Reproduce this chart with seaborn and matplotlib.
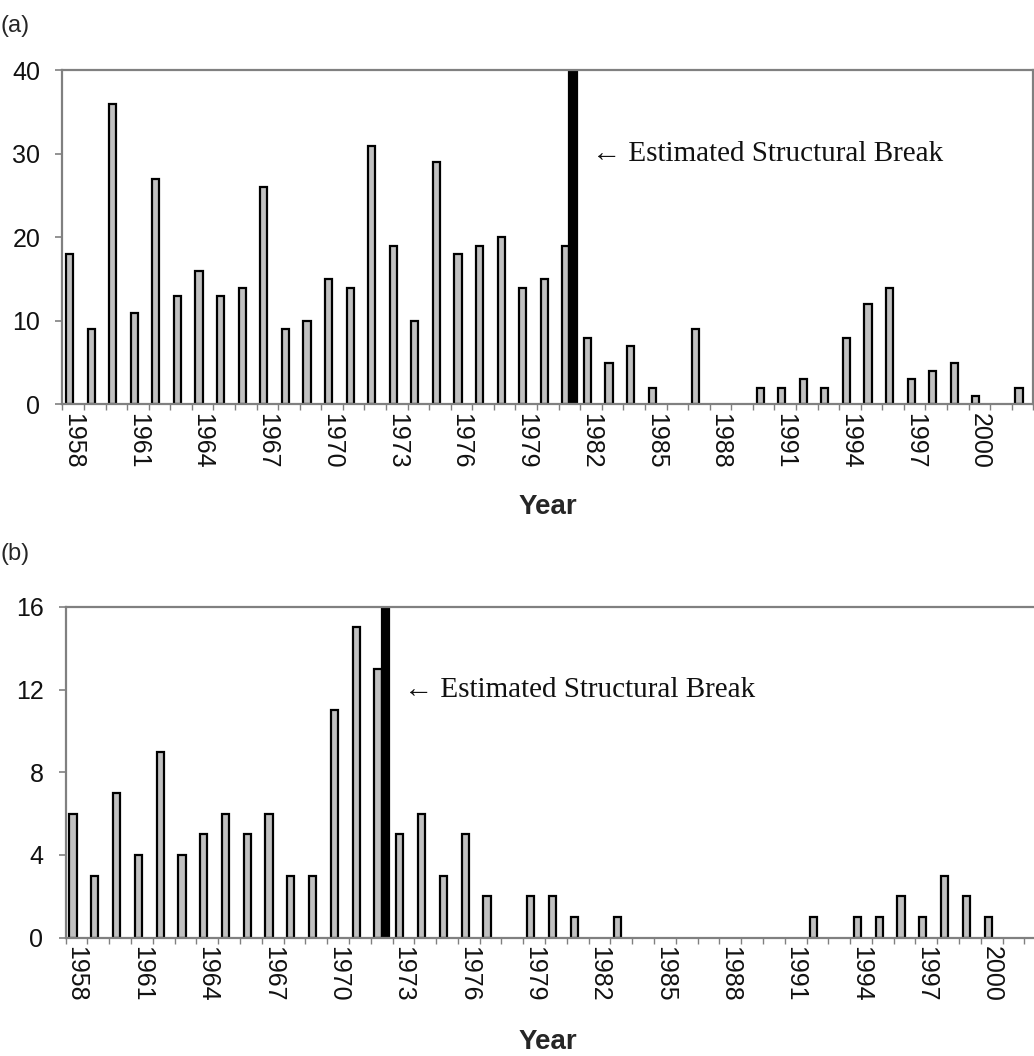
import numpy as np
import pandas as pd
import matplotlib
matplotlib.use("Agg")
import matplotlib.pyplot as plt
import seaborn as sns

# ---------------- data ----------------
years = list(range(1958, 2003))

counts_a = [18, 9, 36, 11, 27, 13, 16, 13, 14, 26,
            9, 10, 15, 14, 31, 19, 10, 29, 18, 19,
            20, 14, 15, 19, 8, 5, 7, 2, 0, 9,
            0, 0, 2, 2, 3, 2, 8, 12, 14, 3,
            4, 5, 1, 0, 2]
break_year_a = 1981
break_value_a = 40

counts_b = [6, 3, 7, 4, 9, 4, 5, 6, 5, 6,
            3, 3, 11, 15, 13, 5, 6, 3, 5, 2,
            0, 2, 2, 1, 0, 1, 0, 0, 0, 0,
            0, 0, 0, 0, 1, 0, 1, 1, 2, 1,
            3, 2, 1, 0, 0]
break_year_b = 1972
break_value_b = 16

tick_years = years[::3]
annotation = "\u2190 Estimated Structural Break"

# ---------------- style ----------------
sns.set_theme(style="white")
plt.rcParams['font.family'] = ['Liberation Sans', 'DejaVu Sans']

GRAY = "#808080"
FILL = "#c0c0c0"

fig = plt.figure(figsize=(10.34, 10.56), dpi=100)


def make_df(counts, break_year, break_value):
    rows = [{"Year": y, "Value": v, "Series": "count"}
            for y, v in zip(years, counts) if v > 0]
    rows.append({"Year": break_year, "Value": break_value, "Series": "break"})
    return pd.DataFrame(rows)


def draw_panel(ax, counts, break_year, break_value, ymax, ystep, text_y):
    df = make_df(counts, break_year, break_value)
    sns.barplot(data=df, x="Year", y="Value", hue="Series",
                order=years, hue_order=["count", "break"],
                palette={"count": FILL, "break": "black"},
                edgecolor="black", linewidth=1.6, width=0.66,
                errorbar=None, legend=False, ax=ax)
    n = len(years)
    ax.set_xlim(-0.5, n - 0.5)
    ax.set_ylim(0, ymax)
    ax.set_yticks(np.arange(0, ymax + 1, ystep))
    ax.set_yticklabels([str(int(v)) for v in np.arange(0, ymax + 1, ystep)],
                       fontsize=18, color="#111111")
    idx = [years.index(y) for y in tick_years]
    ax.set_xticks(idx)
    ax.set_xticklabels([str(y) for y in tick_years], rotation=-90,
                       fontsize=18, color="#111111")
    ax.set_xticks(np.arange(-0.5, n, 1), minor=True)
    ax.tick_params(axis="x", which="major", length=0, pad=6)
    ax.tick_params(axis="x", which="minor", length=4, width=1.0,
                   color=GRAY, direction="out", bottom=True)
    ax.tick_params(axis="y", which="major", length=5, width=1.2,
                   color=GRAY, direction="out", pad=11, left=True)
    for s in ax.spines.values():
        s.set_visible(True)
        s.set_color(GRAY)
        s.set_linewidth(1.6)
    ax.set_xlabel("")
    ax.set_ylabel("")
    bi = years.index(break_year)
    ax.text(bi + 1.05, text_y, annotation, fontsize=21,
            family=["Liberation Serif", "DejaVu Serif"],
            ha="left", va="center", color="#111111")


ax_a = fig.add_axes([0.0603, 0.6170, 0.9391, 0.3163])
draw_panel(ax_a, counts_a, break_year_a, break_value_a, 40, 10, 30)

ax_b = fig.add_axes([0.0635, 0.1120, 0.9483, 0.3134])
draw_panel(ax_b, counts_b, break_year_b, break_value_b, 16, 4, 12)

fig.text(0.0, 0.975, "(a)", fontsize=17, ha="left", va="center")
fig.text(0.0, 0.475, "(b)", fontsize=17, ha="left", va="center")
fig.text(0.530, 0.520, "Year", fontsize=20, fontweight="bold",
         ha="center", va="center")
fig.text(0.530, 0.0133, "Year", fontsize=20, fontweight="bold",
         ha="center", va="center")

fig.savefig("out.png", dpi=100)
